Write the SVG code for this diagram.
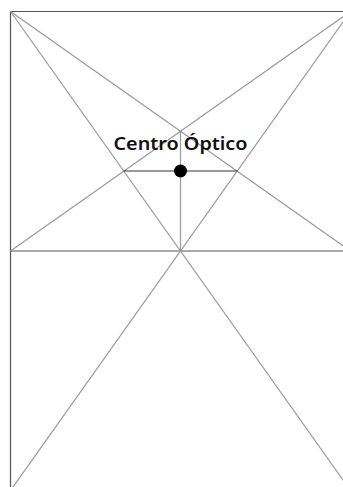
<svg xmlns="http://www.w3.org/2000/svg" width="343" height="487" viewBox="0 0 343 487">
<style>
.frame{stroke:#555;stroke-width:1.2;fill:none}
.diag{stroke:#999;stroke-width:1.2;fill:none}
.dark{stroke:#333;stroke-width:1.2;fill:none}
.lbl{font-family:"Noto Sans","Liberation Sans",sans-serif;font-size:17px;fill:#111;font-weight:600}
</style>
<rect width="343" height="487" fill="#fff"/>
<g id="connectors">
<line class="frame" x1="10.5" y1="11.5" x2="350.5" y2="11.5"/>
<line class="frame" x1="10.5" y1="11.5" x2="10.5" y2="490.5"/>
<line class="frame" x1="10.5" y1="251" x2="350.5" y2="251"/>
<line class="diag" x1="10.5" y1="11.5" x2="350.5" y2="490.5"/>
<line class="diag" x1="350.5" y1="11.5" x2="10.5" y2="490.5"/>
<line class="diag" x1="10.5" y1="11.5" x2="350.5" y2="251"/>
<line class="diag" x1="350.5" y1="11.5" x2="10.5" y2="251"/>
<line class="diag" x1="180.5" y1="131.5" x2="180.5" y2="251"/>
<line class="dark" x1="123.5" y1="171" x2="237.5" y2="171"/>
</g>
<g id="centro-optico">
<circle cx="180.5" cy="171" r="6.5" fill="#000"/>
<text class="lbl" x="180.5" y="149.5" text-anchor="middle" textLength="134" lengthAdjust="spacingAndGlyphs">Centro Óptico</text>
</g>
</svg>
